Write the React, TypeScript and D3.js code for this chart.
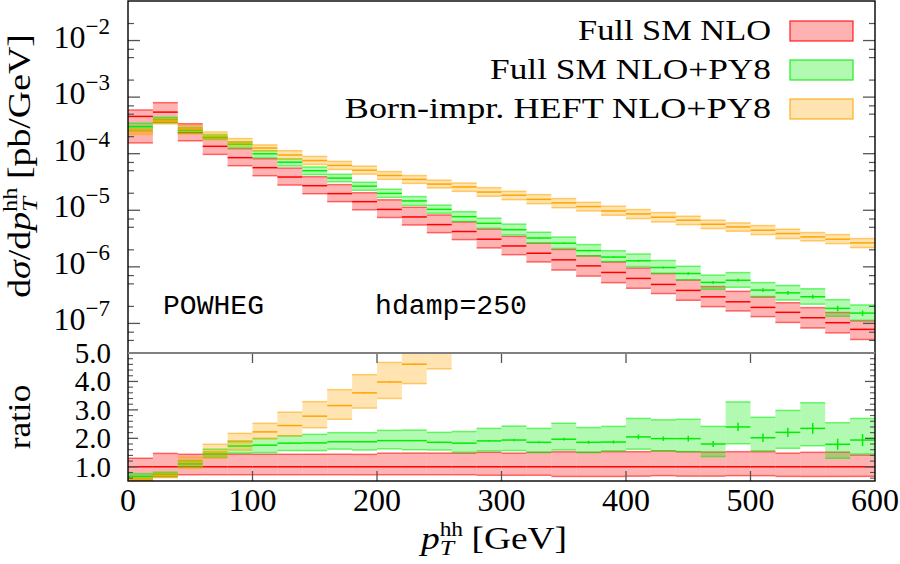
import React from 'react';
import * as d3 from 'd3';

// ---------- data ----------
const binLow = [0, 20, 40, 60, 80, 100, 120, 140, 160, 180, 200, 220, 240, 260, 280, 300, 320, 340, 360, 380, 400, 420, 440, 460, 480, 500, 520, 540, 560, 580];
const binWidth = 20;

// Full SM NLO (absolute, pb/GeV)
const redCentral = [4.56e-4, 5.43e-4, 2.35e-4, 1.35e-4, 8.51e-5, 5.66e-5, 3.87e-5, 2.72e-5, 1.97e-5, 1.42e-5, 1.035e-5, 7.62e-6, 5.58e-6, 4.21e-6, 3.08e-6, 2.34e-6, 1.74e-6, 1.33e-6, 1.04e-6, 7.96e-7, 6.24e-7, 4.89e-7, 3.83e-7, 2.95e-7, 2.41e-7, 1.92e-7, 1.57e-7, 1.26e-7, 1.03e-7, 7.85e-8];
const redLow = [1.55e-4, 3.53e-4, 1.69e-4, 9.72e-5, 6.13e-5, 4.08e-5, 2.79e-5, 1.96e-5, 1.42e-5, 1.02e-5, 7.45e-6, 5.49e-6, 4.02e-6, 3.03e-6, 2.16e-6, 1.64e-6, 1.22e-6, 8.78e-7, 6.86e-7, 5.25e-7, 4.18e-7, 3.37e-7, 2.57e-7, 1.98e-7, 1.66e-7, 1.32e-7, 1.04e-7, 8.3e-8, 6.8e-8, 5.2e-8];
const redHigh = [5.93e-4, 7.98e-4, 3.38e-4, 1.94e-4, 1.23e-4, 8.15e-5, 5.57e-5, 3.92e-5, 2.84e-5, 2.04e-5, 1.53e-5, 1.13e-5, 8.26e-6, 6.23e-6, 4.65e-6, 3.46e-6, 2.63e-6, 2.03e-6, 1.57e-6, 1.22e-6, 9.55e-7, 7.63e-7, 5.86e-7, 4.48e-7, 3.69e-7, 2.94e-7, 2.32e-7, 1.90e-7, 1.56e-7, 1.11e-7];
const redStat = [0.003, 0.003, 0.003, 0.003, 0.003, 0.003, 0.003, 0.003, 0.003, 0.004, 0.004, 0.004, 0.004, 0.005, 0.005, 0.005, 0.005, 0.005, 0.006, 0.006, 0.006, 0.006, 0.007, 0.007, 0.007, 0.008, 0.008, 0.008, 0.009, 0.009];

// Full SM NLO+PY8 (ratio to Full SM NLO central)
const greenRatio = [0.66, 0.74, 1.10, 1.45, 1.73, 1.76, 1.83, 1.84, 1.88, 1.88, 1.92, 1.92, 1.86, 1.83, 1.91, 1.94, 1.86, 1.97, 1.86, 1.87, 2.05, 1.99, 1.99, 1.80, 2.40, 2.02, 2.21, 2.35, 1.79, 1.94];
const greenRatioLow = [0.57, 0.66, 0.98, 1.33, 1.48, 1.50, 1.57, 1.57, 1.62, 1.59, 1.63, 1.60, 1.59, 1.51, 1.56, 1.57, 1.50, 1.59, 1.50, 1.56, 1.62, 1.56, 1.53, 1.36, 1.81, 1.56, 1.65, 1.74, 1.30, 1.45];
const greenRatioHigh = [0.76, 0.81, 1.22, 1.62, 1.91, 2.00, 2.09, 2.14, 2.20, 2.20, 2.28, 2.29, 2.21, 2.24, 2.35, 2.43, 2.35, 2.53, 2.38, 2.42, 2.70, 2.65, 2.67, 2.42, 3.28, 2.74, 2.98, 3.25, 2.55, 2.70];
const greenStat = [0.005, 0.005, 0.005, 0.005, 0.005, 0.005, 0.006, 0.006, 0.007, 0.008, 0.008, 0.009, 0.01, 0.01, 0.012, 0.02, 0.02, 0.025, 0.03, 0.03, 0.04, 0.04, 0.05, 0.06, 0.06, 0.075, 0.075, 0.08, 0.11, 0.11];

// Born-impr. HEFT NLO+PY8 (absolute, pb/GeV)
const orangeCentral = [2.46e-4, 3.75e-4, 2.77e-4, 2.05e-4, 1.60e-4, 1.26e-4, 9.48e-5, 7.56e-5, 6.21e-5, 5.11e-5, 4.12e-5, 3.51e-5, 2.90e-5, 2.58e-5, 2.10e-5, 1.84e-5, 1.56e-5, 1.35e-5, 1.16e-5, 9.73e-6, 8.61e-6, 7.53e-6, 6.67e-6, 5.66e-6, 5.08e-6, 4.44e-6, 3.88e-6, 3.38e-6, 3.08e-6, 2.65e-6];
const orangeLow = [2.19e-4, 3.37e-4, 2.23e-4, 1.76e-4, 1.35e-4, 1.12e-4, 8.09e-5, 6.45e-5, 5.26e-5, 4.35e-5, 3.52e-5, 2.99e-5, 2.48e-5, 2.16e-5, 1.77e-5, 1.54e-5, 1.31e-5, 1.11e-5, 9.73e-6, 8.17e-6, 7.13e-6, 6.22e-6, 5.58e-6, 4.75e-6, 4.27e-6, 3.72e-6, 3.16e-6, 2.88e-6, 2.58e-6, 2.19e-6];
const orangeHigh = [2.74e-4, 4.13e-4, 3.15e-4, 2.42e-4, 1.85e-4, 1.43e-4, 1.13e-4, 8.95e-5, 7.31e-5, 6.02e-5, 4.83e-5, 4.11e-5, 3.40e-5, 3.03e-5, 2.51e-5, 2.16e-5, 1.89e-5, 1.61e-5, 1.38e-5, 1.18e-5, 1.03e-5, 9.10e-6, 7.83e-6, 6.67e-6, 5.98e-6, 5.37e-6, 4.62e-6, 4.04e-6, 3.72e-6, 3.16e-6];
const orangeStat = [0.004, 0.004, 0.004, 0.004, 0.004, 0.005, 0.005, 0.005, 0.006, 0.006, 0.006, 0.007, 0.007, 0.007, 0.008, 0.008, 0.008, 0.009, 0.009, 0.01, 0.01, 0.01, 0.011, 0.011, 0.012, 0.012, 0.013, 0.013, 0.014, 0.015];

const legendLabels = ['Full SM NLO', 'Full SM NLO+PY8', 'Born-impr. HEFT NLO+PY8'];
const seriesColors = ['#ff0000', '#00ee00', '#ffa500'];

const xTicks = [0, 100, 200, 300, 400, 500, 600];
const logMajorExps = [-2, -3, -4, -5, -6, -7];
const logMinorMults = [2, 5, 7];
const ratioTicks = [1, 2, 3, 4, 5];
const ratioTickLabels = ['1.0', '2.0', '3.0', '4.0', '5.0'];

// ---------- layout ----------
const W = 900, H = 564;
const X0 = 128, X1 = 875;
const YT0 = 1, YT1 = 353, YR0 = 353, YR1 = 481;
const SERIF = 'Liberation Serif, Times New Roman, serif';
const MONO = 'Liberation Mono, DejaVu Sans Mono, monospace';

const x = d3.scaleLinear().domain([0, 600]).range([X0, X1]);
const yTop = d3.scaleLog().domain([3e-8, 5e-2]).range([YT1, YT0]);
const yRat = d3.scaleLinear().domain([0.5, 5.0]).range([YR1, YR0]);

type Series = { c: number[]; lo: number[]; hi: number[]; stat: number[]; color: string };

const red: Series = { c: redCentral, lo: redLow, hi: redHigh, stat: redStat, color: seriesColors[0] };
const green: Series = {
  c: greenRatio.map((r, i) => r * redCentral[i]),
  lo: greenRatioLow.map((r, i) => r * redCentral[i]),
  hi: greenRatioHigh.map((r, i) => r * redCentral[i]),
  stat: greenStat,
  color: seriesColors[1],
};
const orange: Series = { c: orangeCentral, lo: orangeLow, hi: orangeHigh, stat: orangeStat, color: seriesColors[2] };
const allSeries = [red, green, orange];

const toRatio = (s: Series): Series => ({
  c: s.c.map((v, i) => v / redCentral[i]),
  lo: s.lo.map((v, i) => v / redCentral[i]),
  hi: s.hi.map((v, i) => v / redCentral[i]),
  stat: s.stat,
  color: s.color,
});

function Bands({ s, y, k }: { s: Series; y: (v: number) => number; k: string }) {
  return (
    <g>
      {binLow.map((b, i) => {
        const xa = x(b), xb = x(b + binWidth);
        const yh = y(s.hi[i]), yl = y(s.lo[i]), yc = y(s.c[i]);
        const xm = (xa + xb) / 2;
        const e1 = y(s.c[i] * (1 + s.stat[i])), e2 = y(s.c[i] * (1 - s.stat[i]));
        return (
          <g key={k + i}>
            <rect x={xa} y={yh} width={xb - xa} height={Math.max(0, yl - yh)} fill={s.color} fillOpacity={0.3} />
            <line x1={xa} x2={xb} y1={yh} y2={yh} stroke={s.color} strokeOpacity={0.55} strokeWidth={1.5} />
            <line x1={xa} x2={xb} y1={yl} y2={yl} stroke={s.color} strokeOpacity={0.55} strokeWidth={1.5} />
            <line x1={xa} x2={xb} y1={yc} y2={yc} stroke={s.color} strokeWidth={1.5} />
            <line x1={xm} x2={xm} y1={e1} y2={e2} stroke={s.color} strokeWidth={1.5} />
          </g>
        );
      })}
    </g>
  );
}

function SText({ x: tx, y: ty, sx = 1, rot = 0, anchor = 'start', size = 32, family = SERIF, children }: any) {
  return (
    <g transform={`translate(${tx},${ty}) rotate(${rot}) scale(${sx},1)`}>
      <text x={0} y={0} textAnchor={anchor} fontSize={size} fontFamily={family} fill="#000">
        {children}
      </text>
    </g>
  );
}

export default function App() {
  const tickColor = '#555';
  const logMinor: number[] = [];
  for (const e of [-2, -3, -4, -5, -6, -7, -8]) {
    for (const m of logMinorMults) {
      const v = m * Math.pow(10, e);
      if (v > 3e-8 && v < 5e-2) logMinor.push(v);
    }
  }
  const ratioMinor: number[] = [];
  for (let v = 0.6; v < 5.0; v += 0.2) {
    const r = Math.round(v * 10) / 10;
    if (Math.abs(r - Math.round(r)) > 1e-6) ratioMinor.push(r);
  }
  const ratioSeries = allSeries.map(toRatio);

  return (
    <svg width={W} height={H} style={{ position: 'absolute', left: 0, top: 0, background: '#fff' }}>
      <defs>
        <clipPath id="clipTop"><rect x={X0} y={YT0} width={X1 - X0} height={YT1 - YT0} /></clipPath>
        <clipPath id="clipRat"><rect x={X0} y={YR0} width={X1 - X0} height={YR1 - YR0} /></clipPath>
      </defs>
      <rect x={0} y={0} width={W} height={H} fill="#fff" />

      {/* top panel data */}
      <g clipPath="url(#clipTop)">
        {allSeries.map((s, j) => <Bands key={'t' + j} k={'t' + j} s={s} y={yTop} />)}
      </g>
      {/* ratio panel data */}
      <g clipPath="url(#clipRat)">
        {ratioSeries.map((s, j) => <Bands key={'r' + j} k={'r' + j} s={s} y={yRat} />)}
      </g>

      {/* log axis ticks */}
      {logMajorExps.map((e) => {
        const yy = yTop(Math.pow(10, e));
        return (
          <g key={'lm' + e}>
            <line x1={X0} x2={X0 + 12} y1={yy} y2={yy} stroke={tickColor} strokeWidth={1.3} />
            <line x1={X1} x2={X1 - 12} y1={yy} y2={yy} stroke={tickColor} strokeWidth={1.3} />
            <text x={110} y={yy + 7} textAnchor="end" fontSize={32} fontFamily={SERIF}>
              10<tspan dy={-14} fontSize={23}>{'\u2212' + Math.abs(e)}</tspan>
            </text>
          </g>
        );
      })}
      {logMinor.map((v, i) => {
        const yy = yTop(v);
        return (
          <g key={'ln' + i}>
            <line x1={X0} x2={X0 + 6} y1={yy} y2={yy} stroke={tickColor} strokeWidth={1.2} />
            <line x1={X1} x2={X1 - 6} y1={yy} y2={yy} stroke={tickColor} strokeWidth={1.2} />
          </g>
        );
      })}

      {/* ratio axis ticks */}
      {ratioTicks.map((v, i) => {
        const yy = yRat(v);
        return (
          <g key={'rt' + v}>
            <line x1={X0} x2={X0 + 10} y1={yy} y2={yy} stroke={tickColor} strokeWidth={1.3} />
            <line x1={X1} x2={X1 - 10} y1={yy} y2={yy} stroke={tickColor} strokeWidth={1.3} />
            <text x={111} y={yy + 10} textAnchor="end" fontSize={29} fontFamily={SERIF}>{ratioTickLabels[i]}</text>
          </g>
        );
      })}
      {ratioMinor.map((v, i) => {
        const yy = yRat(v);
        return (
          <g key={'rm' + i}>
            <line x1={X0} x2={X0 + 5} y1={yy} y2={yy} stroke={tickColor} strokeWidth={1.1} />
            <line x1={X1} x2={X1 - 5} y1={yy} y2={yy} stroke={tickColor} strokeWidth={1.1} />
          </g>
        );
      })}

      {/* x ticks */}
      {xTicks.map((v) => {
        const xx = x(v);
        return (
          <g key={'xt' + v}>
            {v > 0 && v < 600 && (
              <>
                <line x1={xx} x2={xx} y1={YR0} y2={YR0 + 10} stroke={tickColor} strokeWidth={1.3} />
                <line x1={xx} x2={xx} y1={YR1} y2={YR1 - 10} stroke={tickColor} strokeWidth={1.3} />
              </>
            )}
            <text x={xx} y={511} textAnchor="middle" fontSize={32} fontFamily={SERIF}>{v}</text>
          </g>
        );
      })}

      {/* frames */}
      <rect x={X0} y={YT0} width={X1 - X0} height={YR1 - YT0} fill="none" stroke="#000" strokeWidth={1.4} />
      <line x1={X0} x2={X1} y1={YT1} y2={YT1} stroke="#808080" strokeWidth={2} />

      {/* legend */}
      {legendLabels.map((lab, i) => {
        const by = 21 + i * 39;
        const widths = [193, 281, 429];
        const plain = [5.612, 7.954, 11.869];
        return (
          <g key={'lg' + i}>
            <SText x={771} y={by + 19} anchor="end" size={30} sx={widths[i] / (plain[i] * 30)}>{lab}</SText>
            <rect x={790} y={by} width={63} height={20} fill={seriesColors[i]} fillOpacity={0.3} stroke={seriesColors[i]} strokeWidth={1.3} strokeOpacity={0.8} />
          </g>
        );
      })}

      {/* annotations */}
      <g transform="translate(163,314)">
        <text x={0} y={0} fontSize={27} fontFamily={MONO} textLength={101} lengthAdjust="spacingAndGlyphs">POWHEG</text>
      </g>
      <g transform="translate(375,314)">
        <text x={0} y={0} fontSize={27} fontFamily={MONO} textLength={152} lengthAdjust="spacingAndGlyphs">hdamp=250</text>
      </g>

      {/* y title */}
      <SText x={30} y={166} rot={-90} anchor="middle" size={31} sx={1.22}>
        d<tspan fontStyle="italic">σ</tspan>/d<tspan fontStyle="italic">p</tspan>
        <tspan fontSize={20} dy={-13}>hh</tspan>
        <tspan fontSize={22} fontStyle="italic" dx={-20} dy={20}>T</tspan>
        <tspan dx={7} dy={-7}>{' [pb/GeV]'}</tspan>
      </SText>
      {/* ratio title */}
      <SText x={30} y={417} rot={-90} anchor="middle" size={32} sx={1.1}>ratio</SText>
      {/* x title */}
      <SText x={494} y={549} anchor="middle" size={32} sx={1.17}>
        <tspan fontStyle="italic">p</tspan>
        <tspan fontSize={20} dy={-13}>hh</tspan>
        <tspan fontSize={22} fontStyle="italic" dx={-20} dy={19}>T</tspan>
        <tspan dx={7} dy={-6}>{' [GeV]'}</tspan>
      </SText>
    </svg>
  );
}
